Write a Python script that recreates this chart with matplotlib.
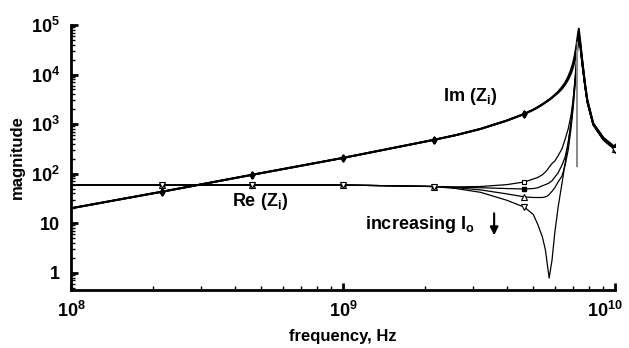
import numpy as np
import matplotlib
matplotlib.use("Agg")
import matplotlib.pyplot as plt
import matplotlib.transforms as mtransforms

plt.rcParams['font.family'] = ['Liberation Sans', 'DejaVu Sans']
plt.rcParams['font.weight'] = 'bold'
plt.rcParams['mathtext.fontset'] = 'custom'
plt.rcParams['mathtext.rm'] = 'Liberation Sans:bold'
plt.rcParams['mathtext.bf'] = 'Liberation Sans:bold'
plt.rcParams['mathtext.it'] = 'Liberation Sans:bold'
plt.rcParams['mathtext.default'] = 'rm'

# frequency grid (GHz)
freq_ghz = [0.1, 0.215, 0.464, 1.0, 2.15, 2.6, 3.2, 4.0, 4.64, 5.0, 5.2, 5.4, 5.54, 5.62,
            5.72, 5.86, 6.0, 6.17, 6.38, 6.55, 6.72, 6.88, 7.0, 7.1, 7.2, 7.28, 7.35,
            7.45, 7.57, 7.75, 7.9, 8.3, 9.05, 10.0]
marker_ghz = [0.215, 0.464, 1.0, 2.15, 4.64, 10.0]

# Im(Zi) curves (nearly on top of each other)
im_1 = [20, 43, 95, 208, 480, 600, 800, 1180, 1610, 1950, 2200, 2500, 2750, 2900,
        3100, 3450, 3900, 4500, 5600, 6900, 9000, 12500, 17000, 24000, 38000, 60000, 85000,
        45000, 19500, 6500, 3100, 1050, 530, 340]
im_2 = [20, 43, 95, 208, 480, 600, 800, 1180, 1610, 1950, 2200, 2500, 2750, 2900,
        3100, 3450, 3850, 4400, 5400, 6600, 8500, 11500, 15500, 21000, 32000, 50000, 65000,
        40000, 18500, 6300, 3000, 1030, 520, 335]
im_3 = [20, 43, 95, 208, 480, 600, 800, 1180, 1610, 1950, 2200, 2500, 2750, 2900,
        3100, 3400, 3800, 4300, 5200, 6300, 8000, 10500, 14000, 19000, 28000, 42000, 55000,
        36000, 17500, 6100, 2950, 1010, 510, 330]

# Re(Zi) curves, increasing Io from a to d
re_a = [59, 59, 59, 59, 55, 54, 55, 60, 68, 78, 84, 95, 108, 118,
        135, 160, 180, 230, 320, 500, 800, 1500, 3000, 6500, 15000, 40000, 70000,
        40000, 17000, 6000, 2900, 1000, 500, 330]
re_b = [59, 59, 59, 59, 55, 53, 52, 50, 49, 50, 52, 57, 60, 62,
        65, 72, 85, 104, 150, 220, 420, 1000, 2300, 5500, 13000, 36000, 65000,
        38000, 16000, 5800, 2800, 980, 490, 320]
re_c = [59, 59, 59, 59, 55, 52, 47, 39, 34, 33, 33, 33, 34, 35,
        38, 44, 52, 68, 90, 150, 300, 800, 2000, 5000, 12000, 33000, 60000,
        36000, 15500, 5600, 2700, 960, 480, 310]
re_d = [59, 59, 59, 59, 55, 50, 42, 29, 21, 15, 9.3, 5.3, 2.9, 1.6,
        0.78, 1.8, 6.4, 21, 65, 165, 420, 1100, 2800, 7000, 18000, 42000, 55000,
        35000, 15000, 5500, 2650, 950, 470, 300]

# sharp grey spike at resonance
spike_ghz = [7.22, 7.24, 7.26]
spike_val = [30000, 137, 45000]

f = np.array(freq_ghz) * 1e9
marks = list(np.where(np.isin(freq_ghz, marker_ghz))[0])

fig = plt.figure(figsize=(6.29, 3.48), dpi=100)
ax = fig.add_axes([0.113, 0.167, 0.865, 0.761])

for im in (im_3, im_2, im_1):
    ax.plot(f, im, color='black', lw=1.4, marker='d', ms=3.5, markevery=marks)

ax.plot(f, re_a, color='black', lw=0.9, marker='s', ms=3.5, mfc='white', mew=0.8, markevery=marks)
ax.plot(f, re_b, color='black', lw=0.9, marker='s', ms=3, mfc='black', markevery=marks)
ax.plot(f, re_c, color='black', lw=0.9, marker='^', ms=4, mfc='white', mew=0.8, markevery=marks)
ax.plot(f, re_d, color='black', lw=0.9, marker='v', ms=4, mfc='white', mew=0.8, markevery=marks)
ax.plot(np.array(spike_ghz) * 1e9, spike_val, color='#8c8c8c', lw=1.0)

ax.set_xscale('log')
ax.set_yscale('log')
ax.set_xlim(1e8, 1e10)
ax.set_ylim(0.45, 1e5)

ax.set_xticks([1e8, 1e9, 1e10], labels=[r'$10^8$', r'$10^9$', r'$10^{10}$'])
ax.set_yticks([1, 10, 1e2, 1e3, 1e4, 1e5],
              labels=['1', '10', r'$10^2$', r'$10^3$', r'$10^4$', r'$10^5$'])
ax.tick_params(which='major', direction='in', length=5, width=2, labelsize=13, pad=8)
ax.tick_params(which='minor', direction='in', length=3, width=1)

# last x label sits a little left so it stays on the canvas
last = ax.get_xticklabels()[-1]
last.set_transform(last.get_transform() +
                   mtransforms.ScaledTranslation(-10 / 100, 0, fig.dpi_scale_trans))

for side in ('top', 'right'):
    ax.spines[side].set_visible(False)
for side in ('left', 'bottom'):
    ax.spines[side].set_linewidth(2)

ax.set_xlabel('frequency, Hz', fontsize=12, fontweight='bold', labelpad=6)
ax.set_ylabel('magnitude', fontsize=12, fontweight='bold', labelpad=4)

ax.text(2.93e9, 3530, 'Im (Z$_\\mathrm{i}$)', fontsize=13, ha='center', va='center')
ax.text(4.95e8, 27, 'Re (Z$_\\mathrm{i}$)', fontsize=13, ha='center', va='center')
ax.text(1.92e9, 9.3, 'increasing I$_\\mathrm{o}$', fontsize=13, ha='center', va='center')
ax.annotate('', xy=(3.59e9, 5.0), xytext=(3.59e9, 18),
            arrowprops=dict(arrowstyle='-|>', color='black', lw=1.5, mutation_scale=12))

fig.savefig('out.png', dpi=100)
